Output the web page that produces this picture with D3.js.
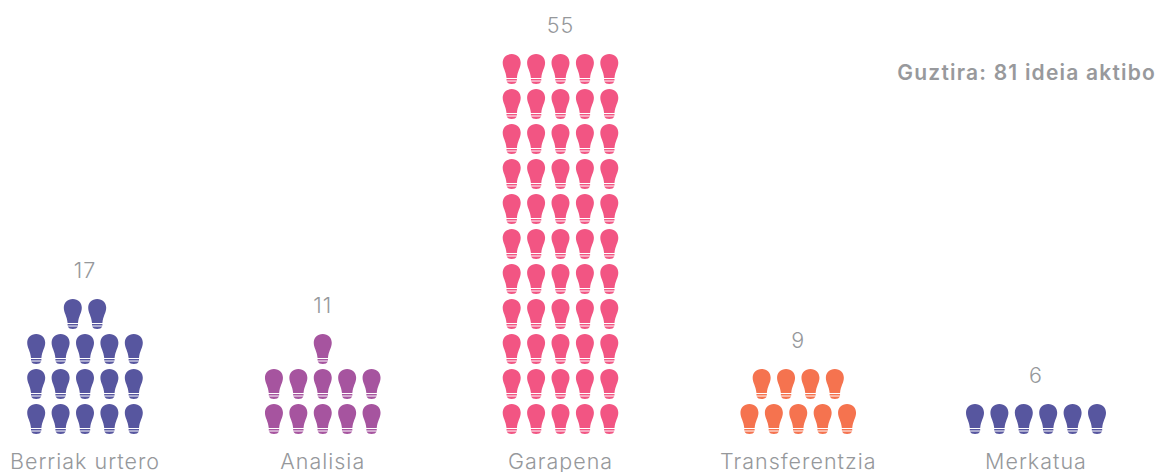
<!DOCTYPE html>
<html>
<head>
<meta charset="utf-8">
<script src="https://cdn.jsdelivr.net/npm/d3@7"></script>
<style>
  html, body { margin: 0; padding: 0; background: #fff; }
  svg { display: block; }
</style>
</head>
<body>
<div id="chart"></div>
<script>
const categories = ["Berriak urtero", "Analisia", "Garapena", "Transferentzia", "Merkatua"];
const counts = [17, 11, 55, 9, 6];
const rowSizes = [5, 5, 5, 5, 6];
const colors = ["#57569f", "#a6549f", "#f25583", "#f5734f", "#57569f"];
const totalLabel = "Guztira: 81 ideia aktibo";

const width = 1163;
const height = 472;
const bulbPitch = 24.4;

const svg = d3.select("#chart")
  .append("svg")
  .attr("width", width)
  .attr("height", height);

const x = d3.scalePoint()
  .domain(categories)
  .range([85, 1036]);

// row 0 is the bottom row
const y = d3.scaleLinear()
  .domain([0, 10])
  .range([404, 54]);

// one bulb, 18 wide and 30 high, origin at top middle
const bulb = "M0,0 C5.4,0 9,3.6 9,8.8 C9,13.8 5.8,17 5.2,24 L-5.2,24 C-5.8,17 -9,13.8 -9,8.8 C-9,3.6 -5.4,0 0,0 Z" +
  "M-5.2,25 L5.2,25 L5.2,26.5 L-5.2,26.5 Z" +
  "M-5,27.5 L5,27.5 C4.4,29.2 2.4,30 0,30 C-2.4,30 -4.4,29.2 -5,27.5 Z";

const bulbCells = categories.flatMap((c, i) => {
  const perRow = rowSizes[i];
  return d3.range(counts[i]).map(k => {
    const row = Math.floor(k / perRow);
    const inRow = Math.min(perRow, counts[i] - row * perRow);
    return { category: c, color: colors[i], row, offset: (k % perRow) - (inRow - 1) / 2 };
  });
});

svg.selectAll(".bulb")
  .data(bulbCells)
  .enter()
  .append("path")
  .attr("class", "bulb")
  .attr("d", bulb)
  .attr("fill", d => d.color)
  .attr("transform", d => `translate(${x(d.category) + d.offset * bulbPitch},${y(d.row)})`);

svg.selectAll(".cat-label")
  .data(categories)
  .enter()
  .append("text")
  .attr("class", "cat-label")
  .attr("x", d => x(d))
  .attr("y", 469)
  .attr("text-anchor", "middle")
  .attr("font-family", "Inter")
  .attr("font-weight", 300)
  .attr("font-size", 21.5)
  .attr("letter-spacing", 1)
  .attr("fill", "#96989b")
  .text(d => d);

svg.selectAll(".count-label")
  .data(counts)
  .enter()
  .append("text")
  .attr("class", "count-label")
  .attr("x", (d, i) => x(categories[i]))
  .attr("y", (d, i) => y(Math.ceil(d / rowSizes[i]) - 1) - 21)
  .attr("text-anchor", "middle")
  .attr("font-family", "Inter")
  .attr("font-weight", 300)
  .attr("font-size", 21.5)
  .attr("letter-spacing", 1)
  .attr("fill", "#96989b")
  .text(d => d);

svg.append("text")
  .attr("x", 1156)
  .attr("y", 80)
  .attr("text-anchor", "end")
  .attr("font-family", "Inter")
  .attr("font-weight", 600)
  .attr("font-size", 21)
  .attr("letter-spacing", 1.2)
  .attr("fill", "#98999c")
  .text(totalLabel);
</script>
</body>
</html>
